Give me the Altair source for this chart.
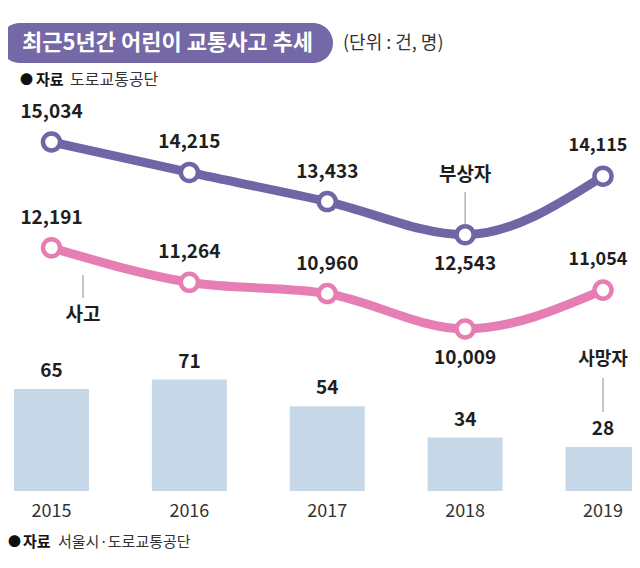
import altair as alt
import pandas as pd

years = [2015, 2016, 2017, 2018, 2019]
injured = [15034, 14215, 13433, 12543, 14115]
accidents = [12191, 11264, 10960, 10009, 11054]
deaths = [65, 71, 54, 34, 28]
injured_pos = ["above", "above", "above", "below", "above_end"]
accidents_pos = ["above", "above", "above", "below", "above_end"]

FONT = "Noto Sans CJK KR"
PURPLE = "#7165a6"
PINK = "#e67db3"
BAR = "#c6d8e7"
TXT = "#1e1e1e"

lines_df = pd.DataFrame({
    "year": years * 2,
    "value": injured + accidents,
    "series": ["부상자"] * 5 + ["사고"] * 5,
    "pos": injured_pos + accidents_pos,
})
bars_df = pd.DataFrame({"year": years, "deaths": deaths})
one = pd.DataFrame({"k": [0]})


def xscale():
    return alt.Scale(domain=[2015, 2019], range=[43.5, 595], padding=0, nice=False, zero=False)


X = alt.X("year:Q", scale=xscale(), axis=None)
Yl = alt.Y("value:Q", scale=alt.Scale(domain=[10009, 15034], range=[321, 134], zero=False, nice=False), axis=None)
Yb = alt.Y("deaths:Q", scale=alt.Scale(domain=[0, 100], range=[483, 326], nice=False), axis=None)
col = alt.Color("series:N", scale=alt.Scale(domain=["부상자", "사고"], range=[PURPLE, PINK]), legend=None)

bars = alt.Chart(bars_df).mark_bar(size=75, color=BAR).encode(x=X, y=Yb)
bar_lbl = alt.Chart(bars_df).mark_text(font=FONT, fontSize=19, fontWeight="bold", color=TXT, dy=-18,
                                        baseline="middle").encode(x=X, y=Yb, text=alt.Text("deaths:Q"))
year_lbl = alt.Chart(bars_df).mark_text(font=FONT, fontSize=18, color="#333333", baseline="middle").encode(
    x=X, y=alt.value(504), text=alt.Text("year:N"))

line = alt.Chart(lines_df).mark_line(strokeWidth=9, interpolate="monotone").encode(
    x=X, y=Yl, color=col, detail="series:N")
pts = alt.Chart(lines_df).mark_point(filled=False, fill="white", fillOpacity=1, strokeWidth=4.5, size=290,
                                     opacity=1).encode(x=X, y=Yl, color=col)


def value_labels(pos, dy, dx=0, size=19):
    return alt.Chart(lines_df).transform_filter(alt.datum.pos == pos).mark_text(
        font=FONT, fontSize=size, fontWeight="bold", color=TXT, dy=dy, dx=dx, baseline="middle").encode(
        x=X, y=Yl, text=alt.Text("value:Q", format=","))


lbl_above = value_labels("above", -30)
lbl_below = value_labels("below", 29)
lbl_end = value_labels("above_end", -30, dx=-5, size=18)


def rule(xv, y1, y2):
    return alt.Chart(one).mark_rule(color="#8a8a8a", strokeWidth=1).encode(
        x=xv, y=alt.value(y1), y2=alt.value(y2))


def txt(s, xv, yv, size=19, weight="bold", color=TXT, align="center"):
    return alt.Chart(one).mark_text(text=s, font=FONT, fontSize=size, fontWeight=weight, color=color,
                                    align=align, baseline="middle").encode(x=xv, y=alt.value(yv))


ann = [
    rule(alt.datum(2018, scale=xscale()), 184, 219),
    txt("부상자", alt.datum(2018, scale=xscale()), 167),
    rule(alt.value(75), 267, 290),
    txt("사고", alt.value(75), 307),
    rule(alt.datum(2019, scale=xscale()), 370, 404),
    txt("사망자", alt.datum(2019, scale=xscale()), 352, size=18),
]

banner = alt.Chart(one).mark_rect(color="#7568a6", cornerRadius=20).encode(
    x=alt.value(-8), x2=alt.value(325), y=alt.value(15), y2=alt.value(55))
title = txt("최근5년간 어린이 교통사고 추세", alt.value(14), 35, size=22, color="white", align="left")
unit = txt("(단위 : 건, 명)", alt.value(335), 36, size=18, weight="normal", color="#333333", align="left")
src1 = [
    txt("●", alt.value(12), 72, size=13, weight="normal", color="#111111", align="left"),
    txt("자료", alt.value(28), 72, size=15, weight="bold", color="#111111", align="left"),
    txt("도로교통공단", alt.value(62), 72, size=16, weight="normal", color="#333333", align="left"),
]
src2 = [
    txt("●", alt.value(0), 534, size=13, weight="normal", color="#111111", align="left"),
    txt("자료", alt.value(15), 534, size=15, weight="bold", color="#111111", align="left"),
    txt("서울시·도로교통공단", alt.value(50), 534, size=15, weight="normal", color="#333333", align="left"),
]

chart = alt.layer(
    bars, bar_lbl, year_lbl, line, pts, lbl_above, lbl_below, lbl_end, *ann, banner, title, unit, *src1, *src2
).resolve_scale(y="independent", color="independent").properties(
    width=624, height=546, autosize=alt.AutoSizeParams(type="none"), padding=0
).configure_view(stroke=None)

chart.save("out.html", embed_options={"renderer": "svg", "actions": False})
